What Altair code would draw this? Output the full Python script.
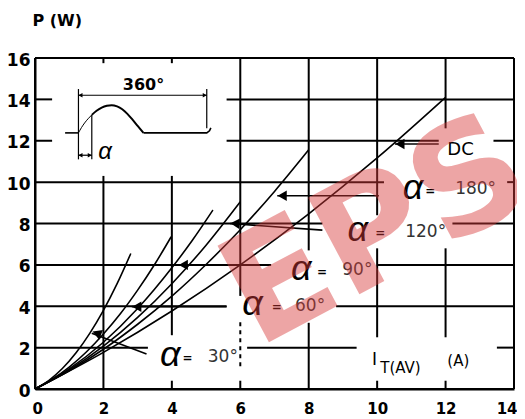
import altair as alt
import pandas as pd

FONT = "DejaVu Sans"

# ---------------- curve data ----------------
I_30 = [0, 0.4, 0.8, 1.2, 1.6, 2.0, 2.4, 2.8]
P_30 = [0, 0.41, 0.99, 1.75, 2.69, 3.8, 5.09, 6.55]
I_60 = [0, 0.5, 1.0, 1.5, 2.0, 2.5, 3.0, 3.5, 3.98]
P_60 = [0, 0.47, 1.06, 1.79, 2.66, 3.65, 4.78, 6.03, 7.36]
I_90 = [0, 1, 2, 3, 4, 4.6, 5.2]
P_90 = [0, 0.97, 2.26, 3.89, 5.86, 7.19, 8.65]
I_120 = [0, 1, 2, 3, 4, 5, 6]
P_120 = [0, 0.92, 2.07, 3.46, 5.09, 6.95, 9.05]
I_180 = [0, 1, 2, 3, 4, 5, 6, 7, 8]
P_180 = [0, 0.88, 1.92, 3.13, 4.49, 6.02, 7.70, 9.55, 11.56]
I_DC = [0, 2, 4, 6, 8, 10, 12]
P_DC = [0, 1.77, 3.77, 6.0, 8.47, 11.17, 14.1]

x_ticks = [0, 2, 4, 6, 8, 10, 12, 14]
y_ticks = [0, 2, 4, 6, 8, 10, 12, 14, 16]

# grid segments (data units) - the printed grid is broken around labels
v_grid_x = [2, 2, 4, 4, 4, 6, 6, 8, 8, 10, 10, 10, 12, 12, 12, 14, 0]
v_grid_y1 = [0, 15.75, 0, 2.6, 15.75, 0, 4.5, 0, 6.7, 0, 2.5, 8.4, 0, 2.5, 12.6, 0, 0]
v_grid_y2 = [10.3, 16, 0.4, 10.3, 16, 0.4, 16, 3.2, 16, 0.4, 6.8, 16, 0.4, 6.8, 16, 16, 16]
h_grid_y = [16, 14, 14, 12, 12, 12, 10, 10, 8, 8, 6, 6, 4, 4, 2, 2, 2, 0]
h_grid_x1 = [0, 0, 5.6, 0, 5.6, 13.4, 0, 13.8, 0, 12.2, 0, 10.0, 0, 8.8, 0, 6.2, 13.5, 0]
h_grid_x2 = [14, 0.5, 14, 0.5, 11.8, 14, 10.2, 14, 8.4, 14, 6.9, 14, 5.6, 14, 3.3, 9.4, 14, 14]
dash_x = [6]
dash_y1 = [1.1]
dash_y2 = [3.3]

# label leaders: tip (x,y) -> tail (x2,y2)
lead_names = ["DC", "180", "120", "90", "60", "30"]
lead_x = [10.52, 7.08, 5.70, 4.19, 2.83, 1.66]
lead_y = [11.84, 9.34, 8.00, 6.00, 3.98, 2.70]
lead_x2 = [11.80, 10.05, 8.40, 6.90, 5.60, 3.26]
lead_y2 = [11.84, 9.34, 7.68, 6.00, 3.98, 1.69]
lead_angle = [0, 0, 4, 0, 0, 21]

# curve labels
alpha_x = [11.05, 9.43, 7.78, 6.36, 3.95]
alpha_y = [9.57, 7.56, 5.65, 3.96, 1.50]
eq_x = [11.55, 10.09, 8.39, 7.07, 4.46]
deg_x = [12.28, 10.82, 8.98, 7.60, 5.05]
deg_y = [9.66, 7.60, 5.75, 4.00, 1.56]
deg_text = ["180°", "120°", "90°", "60°", "30°"]

# inset waveform
base1_x = [0.88, 1.27]
base1_y = [12.38, 12.38]
sin_thin_x = [1.27, 1.36, 1.45, 1.55, 1.66]
sin_thin_y = [12.38, 12.64, 12.86, 13.06, 13.25]
sin_x = [1.66, 1.80, 1.95, 2.10, 2.24, 2.40, 2.55, 2.70, 2.85, 3.00, 3.17]
sin_y = [13.25, 13.45, 13.60, 13.69, 13.72, 13.66, 13.52, 13.30, 13.02, 12.72, 12.38]
base2_x = [3.17, 5.02, 5.10, 5.14]
base2_y = [12.38, 12.38, 12.48, 12.62]

# ---------------- build tables ----------------
rows = []
for name, xs, ys in [("30", I_30, P_30), ("60", I_60, P_60), ("90", I_90, P_90),
                     ("120", I_120, P_120), ("180", I_180, P_180), ("DC", I_DC, P_DC)]:
    for i, p in zip(xs, ys):
        rows.append({"curve": name, "x": i, "y": p})
curves = pd.DataFrame(rows)

grid = pd.concat([
    pd.DataFrame({"x": v_grid_x, "x2": v_grid_x, "y": v_grid_y1, "y2": v_grid_y2}),
    pd.DataFrame({"x": h_grid_x1, "x2": h_grid_x2, "y": h_grid_y, "y2": h_grid_y}),
], ignore_index=True)
dashed = pd.DataFrame({"x": dash_x, "x2": dash_x, "y": dash_y1, "y2": dash_y2})

leaders = pd.DataFrame({"name": lead_names, "x": lead_x, "y": lead_y,
                        "x2": lead_x2, "y2": lead_y2, "angle": lead_angle})

alpha_df = pd.DataFrame({"x": alpha_x, "y": alpha_y, "t": ["α"] * 5})
eq_df = pd.DataFrame({"x": eq_x, "y": alpha_y, "t": ["="] * 5})
deg_df = pd.DataFrame({"x": deg_x, "y": deg_y, "t": deg_text})

inset_rows = []
for seg, xs, ys in [("b1", base1_x, base1_y), ("b2", base2_x, base2_y)]:
    for a, b in zip(xs, ys):
        inset_rows.append({"seg": seg, "x": a, "y": b})
inset_base = pd.DataFrame(inset_rows)
inset_thin = pd.DataFrame({"x": sin_thin_x, "y": sin_thin_y})
inset_sin = pd.DataFrame({"x": sin_x, "y": sin_y})
inset_rules = pd.DataFrame({
    "x": [1.27, 5.02, 1.66, 1.27, 1.27],
    "x2": [1.27, 5.02, 1.66, 5.02, 1.66],
    "y": [11.1, 12.6, 11.1, 14.2, 11.3],
    "y2": [14.5, 14.5, 13.25, 14.2, 11.3],
})
inset_heads_l = pd.DataFrame({"x": [1.27, 1.27], "y": [14.2, 11.3]})
inset_heads_r = pd.DataFrame({"x": [5.02, 1.66], "y": [14.2, 11.3]})

# ---------------- scales / axes ----------------
xsc = alt.Scale(domain=[0, 14], nice=False, zero=False)
ysc = alt.Scale(domain=[0, 16], nice=False, zero=False)
xax = alt.Axis(values=x_ticks, title=None, grid=False, ticks=False, domain=True,
               domainColor="black", domainWidth=2, labelFont=FONT, labelFontSize=15,
               labelFontWeight="bold", labelColor="black", labelPadding=12,
               labelFlush=True, labelFlushOffset=3, labelOverlap=False)
yax = alt.Axis(values=y_ticks, title="P  (W)", grid=False, ticks=False, domain=True,
               domainColor="black", domainWidth=2, labelFont=FONT, labelFontSize=17,
               labelFontWeight="bold", labelColor="black", labelPadding=5,
               labelOffset=2, labelFlush=False, labelOverlap=False,
               titleAngle=0, titleAlign="left", titleBaseline="middle",
               titleX=-3, titleY=-38, titleFont=FONT, titleFontSize=16,
               titleFontWeight="bold", titleColor="black")

X = alt.X("x:Q", scale=xsc, axis=xax)
Y = alt.Y("y:Q", scale=ysc, axis=yax)
X2 = alt.X2("x2:Q")
Y2 = alt.Y2("y2:Q")

grid_layer = alt.Chart(grid).mark_rule(color="black", strokeWidth=2).encode(x=X, y=Y, x2=X2, y2=Y2)
dash_layer = alt.Chart(dashed).mark_rule(color="black", strokeWidth=2, strokeDash=[4, 4]).encode(
    x=X, y=Y, x2=X2, y2=Y2)

curve_layer = alt.Chart(curves).mark_line(color="black", strokeWidth=1.6,
                                          interpolate="monotone").encode(
    x=X, y=Y, detail="curve:N")

leader_layer = alt.Chart(leaders).mark_rule(color="black", strokeWidth=1.6).encode(
    x=X, y=Y, x2=X2, y2=Y2)
head_layer = alt.Chart(leaders).mark_point(shape="triangle-left", filled=True, color="black",
                                           size=110, opacity=1, xOffset=5).encode(
    x=X, y=Y, angle=alt.Angle("angle:Q", scale=None))

alpha_layer = alt.Chart(alpha_df).mark_text(font="Liberation Sans", fontSize=36, fontStyle="italic",
                                            color="black", align="center", baseline="middle",
                                            dy=-3).encode(x=X, y=Y, text="t:N")
eq_layer = alt.Chart(eq_df).mark_text(font=FONT, fontSize=12, fontWeight="bold", color="black",
                                      align="center", baseline="middle").encode(x=X, y=Y, text="t:N")
deg_layer = alt.Chart(deg_df).mark_text(font=FONT, fontSize=17, color="#333333", align="left",
                                        baseline="middle").encode(x=X, y=Y, text="t:N")
dc_layer = alt.Chart(pd.DataFrame({"x": [12.05], "y": [11.55], "t": ["DC"]})).mark_text(
    font=FONT, fontSize=18, color="black", align="left", baseline="middle").encode(x=X, y=Y, text="t:N")

it_main = alt.Chart(pd.DataFrame({"x": [9.85], "y": [1.42], "t": ["I"]})).mark_text(
    font=FONT, fontSize=17, color="black", align="left", baseline="middle").encode(x=X, y=Y, text="t:N")
it_sub = alt.Chart(pd.DataFrame({"x": [10.09], "y": [1.02], "t": ["T(AV)"]})).mark_text(
    font=FONT, fontSize=15, color="black", align="left", baseline="middle").encode(x=X, y=Y, text="t:N")
it_unit = alt.Chart(pd.DataFrame({"x": [12.05], "y": [1.35], "t": ["(A)"]})).mark_text(
    font=FONT, fontSize=15, color="black", align="left", baseline="middle").encode(x=X, y=Y, text="t:N")

inset_base_layer = alt.Chart(inset_base).mark_line(color="black", strokeWidth=1.6).encode(
    x=X, y=Y, detail="seg:N")
inset_thin_layer = alt.Chart(inset_thin).mark_line(color="black", strokeWidth=1,
                                                   interpolate="monotone").encode(x=X, y=Y)
inset_sin_layer = alt.Chart(inset_sin).mark_line(color="black", strokeWidth=2,
                                                 interpolate="monotone").encode(x=X, y=Y)
inset_rule_layer = alt.Chart(inset_rules).mark_rule(color="black", strokeWidth=1.2).encode(
    x=X, y=Y, x2=X2, y2=Y2)
inset_hl = alt.Chart(inset_heads_l).mark_point(shape="triangle-left", filled=True, color="black",
                                               size=22, opacity=1, xOffset=2).encode(x=X, y=Y)
inset_hr = alt.Chart(inset_heads_r).mark_point(shape="triangle-right", filled=True, color="black",
                                               size=22, opacity=1, xOffset=-2).encode(x=X, y=Y)
inset_txt = alt.Chart(pd.DataFrame({"x": [3.17], "y": [14.69], "t": ["360°"]})).mark_text(
    font=FONT, fontSize=16, fontWeight="bold", color="black", align="center",
    baseline="middle").encode(x=X, y=Y, text="t:N")
inset_alpha = alt.Chart(pd.DataFrame({"x": [2.05], "y": [11.35], "t": ["α"]})).mark_text(
    font="Liberation Sans", fontSize=24, fontStyle="italic", color="black", align="center",
    baseline="middle", dy=-2).encode(x=X, y=Y, text="t:N")

watermark = alt.Chart(pd.DataFrame({"x": [10.0], "y": [7.5], "t": ["EPS"]})).mark_text(
    font=FONT, fontSize=150, fontWeight="bold", color="#d83a3a", opacity=0.45, angle=332,
    align="center", baseline="middle").encode(x=X, y=Y, text="t:N")

chart = alt.layer(
    grid_layer, dash_layer, curve_layer, leader_layer, head_layer,
    inset_base_layer, inset_thin_layer, inset_sin_layer, inset_rule_layer, inset_hl, inset_hr,
    inset_txt, inset_alpha,
    alpha_layer, eq_layer, deg_layer, dc_layer, it_main, it_sub, it_unit,
    watermark,
).properties(
    width=479, height=331,
    padding={"left": 27, "top": 50, "right": 3, "bottom": 29},
    autosize=alt.AutoSizeParams(type="none"),
    background="white",
).configure_view(stroke=None)

chart.save("out.html", embed_options={"renderer": "svg", "actions": False})
